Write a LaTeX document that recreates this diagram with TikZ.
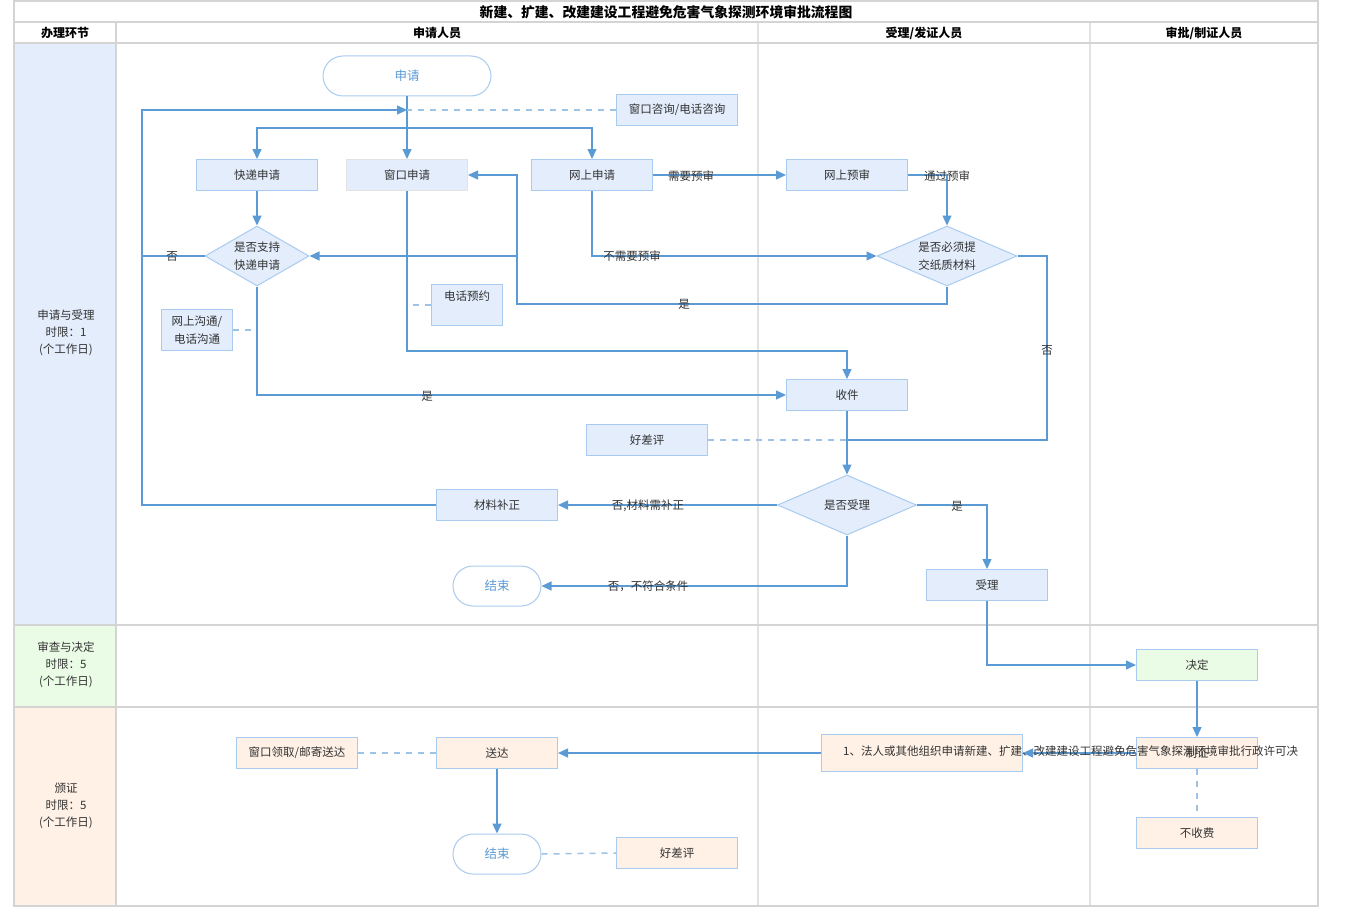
\documentclass[tikz,border=0pt]{standalone}
\usepackage{fontspec}
\setmainfont{Noto Sans CJK SC}
\usetikzlibrary{arrows.meta,shapes.geometric}
\definecolor{boxfill}{HTML}{E3EDFC}
\definecolor{boxdraw}{HTML}{A9CBEF}
\definecolor{flow}{HTML}{5B9BD5}
\definecolor{dashc}{HTML}{9DC3E6}
\definecolor{gridc}{HTML}{D4D4D4}
\definecolor{gridl}{HTML}{E2E2E2}
\definecolor{greenf}{HTML}{EAFCE6}
\definecolor{orangef}{HTML}{FFF1E6}
\definecolor{txt}{HTML}{333333}
\begin{document}
\begin{tikzpicture}[x=1pt,y=-1pt,
 base/.style={draw=boxdraw, line width=1pt, text=txt, font=\fontsize{11.5}{14}\selectfont, inner sep=0pt, align=center},
 box/.style={base, fill=boxfill, minimum width=121pt, minimum height=31pt},
 obox/.style={base, fill=orangef, minimum width=121pt, minimum height=31pt},
 gbox/.style={base, fill=greenf, minimum width=121pt, minimum height=31pt},
 term/.style={base, fill=white, rounded corners=20pt, minimum width=88pt, minimum height=40pt, text=flow, font=\fontsize{12.5}{14}\selectfont},
 dia/.style={base, fill=boxfill, diamond, font=\fontsize{11.5}{18}\selectfont},
 flowline/.style={draw=flow, line width=1.3pt},
 arr/.style={flowline, -{Triangle[length=10pt,width=9pt]}},
 dsh/.style={draw=dashc, line width=1.5pt, dash pattern=on 6pt off 6pt},
 lbl/.style={text=txt, font=\fontsize{11.5}{14}\selectfont, inner sep=0pt},
 hdr/.style={text=black, font=\bfseries\fontsize{12}{14}\selectfont, inner sep=0pt},
 lane/.style={text=txt, font=\fontsize{11.5}{17}\selectfont, inner sep=0pt, align=center},
]
\useasboundingbox (0,0) rectangle (1350,907);
% lane fills
\fill[boxfill] (14,43) rectangle (116,625);
\fill[greenf] (14,625) rectangle (116,707);
\fill[orangef] (14,707) rectangle (116,906);
% grid
\draw[gridl, line width=1.5pt] (758,22) -- (758,906) (1090,22) -- (1090,906);
\draw[gridc, line width=2pt] (116,22) -- (116,906);
\draw[gridc, line width=2pt] (14,22) -- (1318,22) (14,43) -- (1318,43) (14,625) -- (1318,625) (14,707) -- (1318,707);
\draw[gridc, line width=2pt] (14,1) rectangle (1318,906);
% headers
\node[hdr, font=\bfseries\fontsize{13.8}{15}\selectfont] (title) at (666,12) {新建、扩建、改建建设工程避免危害气象探测环境审批流程图};
\node[hdr] (h1) at (65,33) {办理环节};
\node[hdr] (h2) at (437,33) {申请人员};
\node[hdr] (h3) at (924,33) {受理/发证人员};
\node[hdr] (h4) at (1204,33) {审批/制证人员};
\node[lane] (l1) at (66,333) {申请与受理\\时限：1\\(个工作日)};
\node[lane] (l2) at (66,665) {审查与决定\\时限：5\\(个工作日)};
\node[lane] (l3) at (66,806) {颁证\\时限：5\\(个工作日)};
% nodes
\node[term, minimum width=168pt] (apply) at (407,76) {申请};
\node[box, minimum height=30pt] (consult) at (677,110) {窗口咨询/电话咨询};
\node[box] (exp) at (257,175) {快递申请};
\node[box, draw=gridl] (win) at (407,175) {窗口申请};
\node[box] (net) at (592,175) {网上申请};
\node[box] (pre) at (847,175) {网上预审};
\node[dia, minimum width=104pt, minimum height=60pt, aspect=1.73] (d1) at (257,256) {是否支持\\快递申请};
\node[dia, minimum width=140pt, minimum height=60pt, aspect=2.33] (d2) at (947,256) {是否必须提\\交纸质材料};
\node[box, minimum width=71pt, minimum height=41pt, font=\fontsize{11.5}{18}\selectfont] (phone) at (467,305) {电话预约\\\mbox{}};
\node[box, minimum width=71pt, minimum height=41pt, font=\fontsize{11.5}{18}\selectfont] (netcomm) at (197,330) {网上沟通/\\电话沟通};
\node[box] (recv) at (847,395) {收件};
\node[box] (eval1) at (647,440) {好差评};
\node[dia, minimum width=139pt, minimum height=60pt, aspect=2.3] (d3) at (847,505) {是否受理};
\node[box] (fix) at (497,505) {材料补正};
\node[term] (end1) at (497,586) {结束};
\node[box] (acc) at (987,585) {受理};
\node[gbox] (dec) at (1197,665) {决定};
\node[obox, minimum width=201pt, minimum height=37pt] (notice) at (922,753) {};
\node[obox] (cert) at (1197,753) {制证};
\node[obox] (nofee) at (1197,833) {不收费};
\node[obox] (send) at (497,753) {送达};
\node[obox] (pick) at (297,753) {窗口领取/邮寄送达};
\node[term] (end2) at (497,854) {结束};
\node[obox] (eval2) at (677,853) {好差评};
% junction coordinates
\coordinate (j1) at (407,128);
\coordinate (back) at (407,110);
\coordinate (lx) at (142,110);
\coordinate (lx2) at (142,256);
\coordinate (jw) at (407,351);
\coordinate (jr) at (517,304);
\coordinate (jt) at (517,175);
\coordinate (jm) at (517,256);
\coordinate (ra) at (1047,256);
\coordinate (rb) at (1047,440);
\coordinate (rc) at (847,440);
% connectors
\draw[arr] (apply.south) -- (win.north);
\draw[arr] (j1) -| (exp.north);
\draw[arr] (j1) -| (net.north);
\draw[dsh] (consult.west) -- (back);
\draw[arr] (fix.west) -| (lx) -- (back);
\draw[flowline] (d1.west) -- (lx2);
\draw[arr] (exp.south) -- (d1.north);
\draw[arr] (d1.south) |- (recv.west);
\draw[dsh] (netcomm.east) -- (netcomm.east -| d1.south);
\draw[arr] (win.south) -- (jw) -| (recv.north);
\draw[dsh] (phone.west) -- (phone.west -| win.south);
\draw[arr] (net.east) -- (pre.west);
\draw[arr] (pre.east) -| (d2.north);
\draw[arr] (net.south) |- (d2.west);
\draw[arr] (d2.south) |- (jr) -- (jt) -- (win.east);
\draw[arr] (jm) -- (d1.east);
\draw[flowline] (d2.east) -- (ra) -- (rb) -- (rc);
\draw[dsh] (eval1.east) -- (rc);
\draw[arr] (recv.south) -- (d3.north);
\draw[arr] (d3.west) -- (fix.east);
\draw[arr] (d3.south) |- (end1.east);
\draw[arr] (d3.east) -| (acc.north);
\draw[arr] (acc.south) |- (dec.west);
\draw[arr] (dec.south) -- (cert.north);
\draw[arr] (cert.west) -- (notice.east);
\draw[arr] (notice.west) -- (send.east);
\draw[dsh] (pick.east) -- (send.west);
\draw[arr] (send.south) -- (end2.north);
\draw[dsh] (end2.east) -- (eval2.west);
\draw[dsh] (cert.south) -- (nofee.north);
% labels
\node[lbl] (t1) at (172,256) {否};
\node[lbl] (t2) at (427,396) {是};
\node[lbl] (t3) at (691,176) {需要预审};
\node[lbl] (t4) at (947,176) {通过预审};
\node[lbl] (t5) at (632,256) {不需要预审};
\node[lbl] (t6) at (684,304) {是};
\node[lbl] (t7) at (1047,350) {否};
\node[lbl] (t8) at (648,506) {否,材料需补正};
\node[lbl] (t9) at (648,586) {否，不符合条件};
\node[lbl] (t10) at (957,506) {是};
\node[lbl, anchor=west] (noticetxt) at (843,751) {1、法人或其他组织申请新建、扩建、改建建设工程避免危害气象探测环境审批行政许可决};
\end{tikzpicture}
\end{document}
